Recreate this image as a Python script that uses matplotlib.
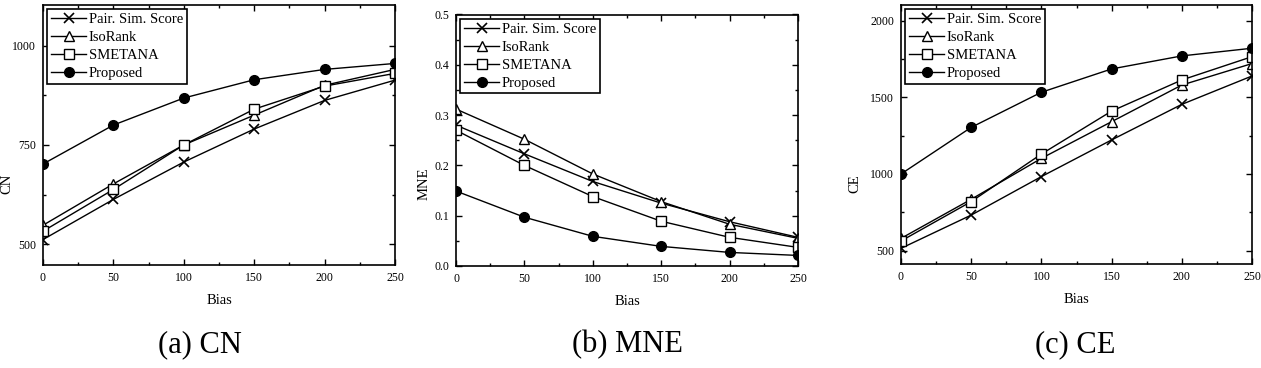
import matplotlib
matplotlib.use("Agg")
import matplotlib.pyplot as plt
from matplotlib.ticker import MultipleLocator

plt.rcParams['font.family'] = ['Liberation Serif', 'DejaVu Serif']

bias = [0, 50, 100, 150, 200, 250]

# (a) CN
cn_pair = [512, 613, 707, 790, 862, 913]
cn_iso = [548, 652, 750, 825, 900, 940]
cn_smetana = [533, 638, 750, 840, 898, 930]
cn_proposed = [702, 800, 868, 914, 940, 955]

# (b) MNE
mne_pair = [0.280, 0.223, 0.168, 0.125, 0.088, 0.057]
mne_iso = [0.312, 0.252, 0.183, 0.128, 0.083, 0.055]
mne_smetana = [0.270, 0.200, 0.138, 0.089, 0.057, 0.037]
mne_proposed = [0.149, 0.097, 0.059, 0.039, 0.027, 0.021]

# (c) CE
ce_pair = [515, 732, 983, 1222, 1454, 1639]
ce_iso = [580, 835, 1102, 1341, 1580, 1720]
ce_smetana = [563, 820, 1130, 1410, 1613, 1765]
ce_proposed = [1000, 1304, 1533, 1685, 1770, 1820]

labels = ["Pair. Sim. Score", "IsoRank", "SMETANA", "Proposed"]
captions = ["(a) CN", "(b) MNE", "(c) CE"]
ylabels = ["CN", "MNE", "CE"]

fig = plt.figure(figsize=(12.61, 3.68), dpi=100)

positions = [
    [43 / 1261, 103 / 368, 352 / 1261, 260 / 368],
    [456 / 1261, 102 / 368, 342 / 1261, 251.5 / 368],
    [901 / 1261, 104 / 368, 351 / 1261, 259 / 368],
]
data = [
    (cn_pair, cn_iso, cn_smetana, cn_proposed),
    (mne_pair, mne_iso, mne_smetana, mne_proposed),
    (ce_pair, ce_iso, ce_smetana, ce_proposed),
]
ylims = [(448, 1102), (0, 0.5), (413, 2102)]
ymajor = [250, 0.1, 500]
yminor = [125, 0.05, 250]
ylabel_x = [13 / 1261, 431 / 1261, 861 / 1261]
caption_x = [200 / 1261, 627 / 1261, 1075 / 1261]

for i in range(3):
    ax = fig.add_axes(positions[i])
    pair, iso, smet, prop = data[i]
    ax.plot(bias, pair, color='k', lw=1, marker='x', ms=7, mew=1.2, label=labels[0])
    ax.plot(bias, iso, color='k', lw=1, marker='^', ms=7, mfc='white', mew=1, label=labels[1])
    ax.plot(bias, smet, color='k', lw=1, marker='s', ms=6.5, mfc='white', mew=1, label=labels[2])
    ax.plot(bias, prop, color='k', lw=1, marker='o', ms=7, label=labels[3])
    ax.set_xlim(0, 250)
    ax.set_ylim(*ylims[i])
    ax.xaxis.set_major_locator(MultipleLocator(50))
    ax.xaxis.set_minor_locator(MultipleLocator(25))
    ax.yaxis.set_major_locator(MultipleLocator(ymajor[i]))
    ax.yaxis.set_minor_locator(MultipleLocator(yminor[i]))
    ax.tick_params(which='both', direction='in', top=True, right=True, labelsize=8.5,
                   width=1, pad=5)
    ax.tick_params(which='major', length=4)
    ax.tick_params(which='minor', length=2)
    for s in ax.spines.values():
        s.set_linewidth(1.2)
    ax.set_xlabel("Bias", fontsize=10.5, labelpad=7)
    ax.set_ylabel(ylabels[i], fontsize=10.5)
    ax.yaxis.set_label_coords(ylabel_x[i], 0.5, transform=fig.transFigure)
    leg = ax.legend(loc='upper left', fontsize=10.5, frameon=True, fancybox=False,
                    edgecolor='k', framealpha=1, borderaxespad=0.3, borderpad=0.25,
                    handlelength=2.4, handletextpad=0.2, labelspacing=0.33)
    leg.get_frame().set_linewidth(1.2)
    fig.text(caption_x[i], 23 / 368, captions[i], ha='center', va='center', fontsize=22)

fig.savefig("out.png", dpi=100)
